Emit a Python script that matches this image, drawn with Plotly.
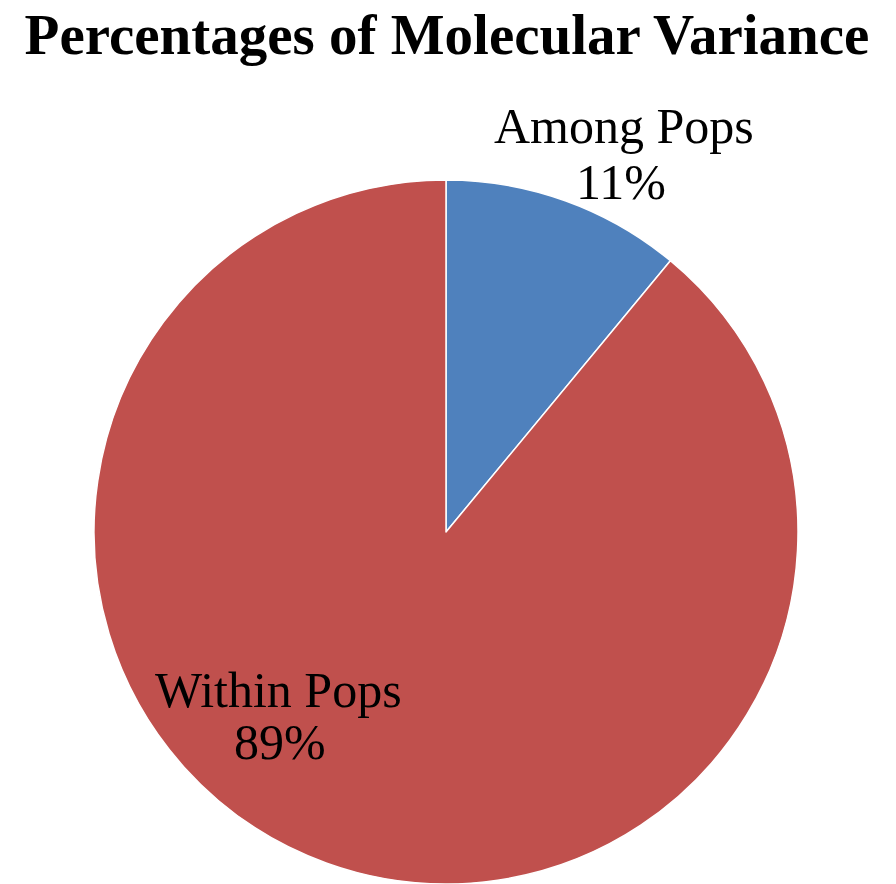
import plotly.graph_objs as go

# data
labels = ["Among Pops", "Within Pops"]
values = [11, 89]
colors = ["#4F81BD", "#C0504D"]

W, H = 896, 884
cx, cy, r = 446, 532, 352

fig = go.Figure()
fig.add_trace(go.Pie(
    labels=labels,
    values=values,
    sort=False,
    direction='clockwise',
    rotation=0,
    marker=dict(colors=colors, line=dict(color='white', width=1.5)),
    textinfo='none',
    hoverinfo='label+percent',
    showlegend=False,
    domain=dict(x=[(cx - r) / W, (cx + r) / W], y=[(H - cy - r) / H, (H - cy + r) / H]),
))

# slice labels (name line, percent line), positioned like the original
label_pos = [((624, 126), (621, 182)), ((278, 690), (280, 742))]
total = sum(values)
lab_font = dict(family="Liberation Serif", size=50, color='black')
for lab, v, pos in zip(labels, values, label_pos):
    for txt, (x, y) in zip([lab, f"{round(100 * v / total)}%"], pos):
        fig.add_annotation(
            x=x / W, y=1 - y / H, xref='paper', yref='paper',
            xanchor='center', yanchor='middle',
            text=txt, showarrow=False, font=lab_font,
        )

fig.update_layout(
    title=dict(text="<b>Percentages of Molecular Variance</b>", x=447 / W, xanchor='center',
               y=1 - 34 / H, yanchor='middle',
               font=dict(family="Liberation Serif", size=57, color='black')),
    width=W, height=H,
    margin=dict(l=0, r=0, t=0, b=0),
    paper_bgcolor='white',
    plot_bgcolor='white',
)

# drop the default page margin so the figure fills the window
fig.write_html("out.html", config={'displayModeBar': False},
               post_script="document.body.style.margin='0';")
